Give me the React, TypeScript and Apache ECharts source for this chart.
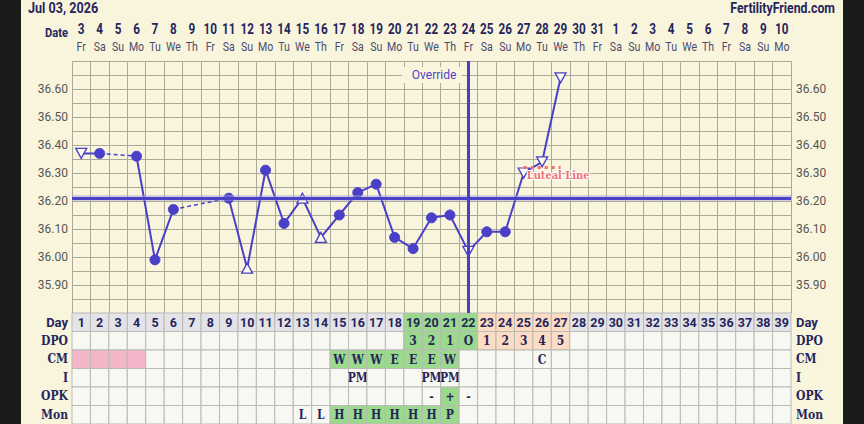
import React, { useEffect, useRef } from 'react';
import * as echarts from 'echarts';

// ---------- data ----------
const dayNumbers = ['1','2','3','4','5','6','7','8','9','10','11','12','13','14','15','16','17','18','19','20','21','22','23','24','25','26','27','28','29','30','31','32','33','34','35','36','37','38','39'];
const dateNumbers = ['3','4','5','6','7','8','9','10','11','12','13','14','15','16','17','18','19','20','21','22','23','24','25','26','27','28','29','30','31','1','2','3','4','5','6','7','8','9','10'];
const weekdays = ['Fr','Sa','Su','Mo','Tu','We','Th','Fr','Sa','Su','Mo','Tu','We','Th','Fr','Sa','Su','Mo','Tu','We','Th','Fr','Sa','Su','Mo','Tu','We','Th','Fr','Sa','Su','Mo','Tu','We','Th','Fr','Sa','Su','Mo'];
const temps: (number | null)[] = [36.37, 36.37, null, 36.36, 35.99, 36.17, null, null, 36.21, 35.96, 36.31, 36.12, 36.21, 36.07, 36.15, 36.23, 36.26, 36.07, 36.03, 36.14, 36.15, 36.02, 36.09, 36.09, 36.30, 36.34, 36.64, null, null, null, null, null, null, null, null, null, null, null, null];
const markers = ['down','dot','','dot','dot','dot','','','dot','up','dot','dot','up','up','dot','dot','dot','dot','dot','dot','dot','down','dot','dot','down','down','down','','','','','','','','','','','',''];
const yTickLabels = ['35.90','36.00','36.10','36.20','36.30','36.40','36.50','36.60'];
const coverline = 36.21;
const ovulationDay = '22';
const lutealLine = { from: '25', to: '27', value: 36.32 };
const rowNames = ['Day', 'DPO', 'CM', 'I', 'OPK', 'Mon'];
const dpoLabels = ['','','','','','','','','','','','','','','','','','','3','2','1','O','1','2','3','4','5','','','','','','','','','','','',''];
const cmLabels = ['','','','','','','','','','','','','','','W','W','W','E','E','E','W','','','','','C','','','','','','','','','','','','',''];
const periodDays = [1, 2, 3, 4];
const intercourseLabels = ['','','','','','','','','','','','','','','','PM','','','','PM','PM','','','','','','','','','','','','','','','','','',''];
const opkLabels = ['','','','','','','','','','','','','','','','','','','','-','+','-','','','','','','','','','','','','','','','','',''];
const monitorLabels = ['','','','','','','','','','','','','L','L','H','H','H','H','H','H','P','','','','','','','','','','','','','','','','','',''];

// ---------- styles ----------
const CREAM = '#f9f5dd';
const NAVY = '#25255c';
const LINE = '#4a40c8';
const GRID = '#aba999';
const GREEN = '#9bd98c';
const PEACH = '#fcdcc2';
const PINK = '#f3b6c8';
const DAYBG = '#e3e3e8';
const CELLBG = '#f8f8f3';
const SERIF = "'DejaVu Serif Condensed', 'DejaVu Serif', serif";
const SANS = "Roboto, 'Noto Sans', sans-serif";

function buildOption() {
  const ovIdx = dpoLabels.indexOf('O');

  // table cells
  type Cell = { col: number; row: number; text: string; fill: string; font: string };
  const cells: Cell[] = [];
  const serifFont = `bold 12px ${SERIF}`;
  for (let i = 0; i < dayNumbers.length; i++) {
    const phase = dpoLabels[i] === '' ? '' : i <= ovIdx ? 'fertile' : 'luteal';
    const phaseColor = phase === 'fertile' ? GREEN : phase === 'luteal' ? PEACH : '';
    cells.push({ col: i, row: 0, text: dayNumbers[i], fill: phaseColor || DAYBG, font: `bold 12.5px ${SANS}` });
    cells.push({ col: i, row: 1, text: dpoLabels[i], fill: phaseColor || CELLBG, font: serifFont });
    const cm = cmLabels[i];
    const cmFill = periodDays.includes(i + 1) ? PINK : (cm === 'W' || cm === 'E') ? GREEN : CELLBG;
    cells.push({ col: i, row: 2, text: cm, fill: cmFill, font: serifFont });
    cells.push({ col: i, row: 3, text: intercourseLabels[i], fill: CELLBG, font: serifFont });
    cells.push({ col: i, row: 4, text: opkLabels[i], fill: opkLabels[i] === '+' ? GREEN : CELLBG, font: serifFont });
    const m = monitorLabels[i];
    cells.push({ col: i, row: 5, text: m, fill: (m === 'H' || m === 'P') ? GREEN : CELLBG, font: serifFont });
  }

  // main temperature data
  const mainData = temps.map((v, i) => {
    if (v == null) return '-';
    const mk = markers[i];
    if (mk === 'dot') {
      return { value: v, symbol: 'circle', symbolSize: 10, itemStyle: { color: LINE, borderColor: LINE } };
    }
    return {
      value: v,
      symbol: 'triangle',
      symbolSize: [11, 10],
      symbolRotate: mk === 'down' ? 180 : 0,
      itemStyle: { color: '#fbf9ec', borderColor: LINE, borderWidth: 1.3 },
    };
  });

  // dashed segments across missing days
  const gapSeries: any[] = [];
  let prev = -1;
  temps.forEach((v, i) => {
    if (v == null) return;
    if (prev >= 0 && i - prev > 1) {
      const a = prev;
      gapSeries.push({
        type: 'line',
        xAxisIndex: 0,
        yAxisIndex: 0,
        data: temps.map((t, j) => (j === a || j === i ? t : '-')),
        connectNulls: true,
        symbol: 'none',
        silent: true,
        z: 2,
        lineStyle: { color: LINE, width: 1.5, type: [4, 3] },
      });
    }
    prev = i;
  });

  const yFormatter = (v: number) => {
    const s = v.toFixed(2);
    return yTickLabels.includes(s) ? s : '';
  };

  const rowLabel = {
    formatter: (v: string) => (v === 'Day' ? `{s|${v}}` : `{r|${v}}`),
    rich: {
      s: { fontFamily: SANS, fontWeight: 'bold', fontSize: 13, color: NAVY },
      r: { fontFamily: SERIF, fontWeight: 'bold', fontSize: 12, color: NAVY },
    },
  };

  return {
    animation: false,
    backgroundColor: CREAM,
    graphic: [
      { type: 'rect', shape: { x: 0, y: 0, width: 21, height: 424 }, style: { fill: '#1b1b1b' }, silent: true },
      { type: 'rect', shape: { x: 843, y: 0, width: 21, height: 424 }, style: { fill: '#1b1b1b' }, silent: true },
      { type: 'text', x: 28, y: 8, scaleX: 0.84, style: { text: 'Jul 03, 2026', fill: NAVY, font: `bold 15px ${SANS}`, align: 'left', verticalAlign: 'middle' } },
      { type: 'text', x: 835, y: 8, scaleX: 0.82, style: { text: 'FertilityFriend.com', fill: NAVY, font: `bold 15px ${SANS}`, align: 'right', verticalAlign: 'middle' } },
      { type: 'text', x: 68, y: 33, scaleX: 0.86, style: { text: 'Date', fill: NAVY, font: `bold 13px ${SANS}`, align: 'right', verticalAlign: 'middle' } },
    ],
    grid: [
      { left: 72, right: 73, top: 61, height: 252 },
      { left: 72, right: 73, top: 313, height: 111 },
    ],
    xAxis: [
      {
        gridIndex: 0, type: 'category', data: dayNumbers, boundaryGap: true,
        axisLine: { show: false }, axisTick: { show: false }, axisLabel: { show: false },
        splitLine: { show: true, interval: 0, lineStyle: { color: GRID, width: 1 } },
      },
      {
        gridIndex: 1, type: 'category', data: dayNumbers, boundaryGap: true,
        axisLine: { show: false }, axisTick: { show: false }, axisLabel: { show: false }, splitLine: { show: false },
      },
    ],
    yAxis: [
      {
        gridIndex: 0, type: 'value', min: 35.8, max: 36.7, interval: 0.05, position: 'left',
        axisLine: { show: false }, axisTick: { show: false },
        splitLine: { show: true, lineStyle: { color: GRID, width: 1 } },
        axisLabel: { formatter: yFormatter, margin: 4, color: '#555555', fontSize: 12, fontFamily: SANS },
      },
      {
        gridIndex: 0, type: 'value', min: 35.8, max: 36.7, interval: 0.05, position: 'right',
        axisLine: { show: false }, axisTick: { show: false }, splitLine: { show: false },
        axisLabel: { formatter: yFormatter, margin: 5, color: '#555555', fontSize: 12, fontFamily: SANS },
      },
      {
        gridIndex: 1, type: 'category', data: rowNames, inverse: true, position: 'left',
        axisLine: { show: false }, axisTick: { show: false }, splitLine: { show: false },
        axisLabel: { margin: 4, ...rowLabel },
      },
      {
        gridIndex: 1, type: 'category', data: rowNames, inverse: true, position: 'right',
        axisLine: { show: false }, axisTick: { show: false }, splitLine: { show: false },
        axisLabel: { margin: 5, ...rowLabel },
      },
    ],
    series: [
      ...gapSeries,
      {
        type: 'line',
        xAxisIndex: 0,
        yAxisIndex: 0,
        data: mainData,
        connectNulls: false,
        z: 3,
        lineStyle: { color: LINE, width: 2 },
        markLine: {
          silent: true,
          symbol: ['none', 'none'],
          label: { show: false },
          data: [
            { yAxis: coverline, lineStyle: { color: 'rgba(160,160,215,0.45)', width: 6, type: 'solid' } },
            { yAxis: coverline, lineStyle: { color: LINE, width: 3, type: 'solid' } },
            { xAxis: ovulationDay, lineStyle: { color: LINE, width: 3, type: 'solid' } },
            [
              {
                coord: [lutealLine.from, lutealLine.value],
                lineStyle: { color: '#f07070', width: 3, type: [3, 4] },
                label: {
                  show: true, formatter: 'Luteal Line', position: 'insideStartBottom', distance: 3,
                  color: '#f07070', fontWeight: 'bold', fontSize: 11, fontFamily: SERIF,
                  textBorderColor: '#ffffff', textBorderWidth: 2,
                },
              },
              { coord: [lutealLine.to, lutealLine.value] },
            ],
          ],
        },
        markPoint: {
          silent: true,
          symbol: 'circle',
          symbolSize: 0,
          data: [
            {
              coord: [ovulationDay, 36.65],
              label: {
                show: true, formatter: 'Override', position: 'left', distance: 7,
                color: '#5046c8', fontSize: 12, fontFamily: SANS,
                backgroundColor: CREAM, padding: [2, 5, 2, 10],
              },
            },
          ],
        },
      },
      {
        // date header: day-of-month and weekday above each column
        type: 'custom',
        xAxisIndex: 0,
        yAxisIndex: 0,
        silent: true,
        clip: false,
        data: dateNumbers.map((_, i) => [i, 36.7]),
        renderItem: (params: any, api: any) => {
          const i = params.dataIndex;
          const p = api.coord([api.value(0), api.value(1)]);
          return {
            type: 'group',
            children: [
              {
                type: 'text', x: p[0], y: p[1] - 32, scaleX: 0.78,
                style: { text: dateNumbers[i], fill: NAVY, font: `bold 15px ${SANS}`, align: 'center', verticalAlign: 'middle' },
              },
              {
                type: 'text', x: p[0], y: p[1] - 14, scaleX: 0.88,
                style: { text: weekdays[i], fill: '#4a4a70', font: `12px ${SANS}`, align: 'center', verticalAlign: 'middle' },
              },
            ],
          };
        },
      },
      {
        type: 'custom',
        xAxisIndex: 1,
        yAxisIndex: 2,
        silent: true,
        data: cells.map((c) => [c.col, c.row]),
        renderItem: (params: any, api: any) => {
          const cell = cells[params.dataIndex];
          const p = api.coord([api.value(0), api.value(1)]);
          const s = api.size([1, 1]);
          return {
            type: 'group',
            children: [
              {
                type: 'rect',
                shape: { x: p[0] - s[0] / 2, y: p[1] - s[1] / 2, width: s[0], height: s[1] },
                style: { fill: cell.fill, stroke: '#b9b9b5', lineWidth: 1 },
              },
              {
                type: 'text',
                x: p[0],
                y: p[1] + 0.5,
                style: { text: cell.text, fill: NAVY, font: cell.font, align: 'center', verticalAlign: 'middle' },
              },
            ],
          };
        },
      },
    ],
  };
}

export default function App() {
  const ref = useRef<HTMLDivElement>(null);
  useEffect(() => {
    if (!ref.current) return;
    const chart = echarts.init(ref.current, null, { renderer: 'svg' });
    chart.setOption(buildOption() as any);
    return () => chart.dispose();
  }, []);
  return (
    <div style={{ position: 'fixed', left: 0, top: 0, width: 864, height: 424, background: '#1b1b1b' }}>
      <div ref={ref} style={{ width: 864, height: 424 }} />
    </div>
  );
}
